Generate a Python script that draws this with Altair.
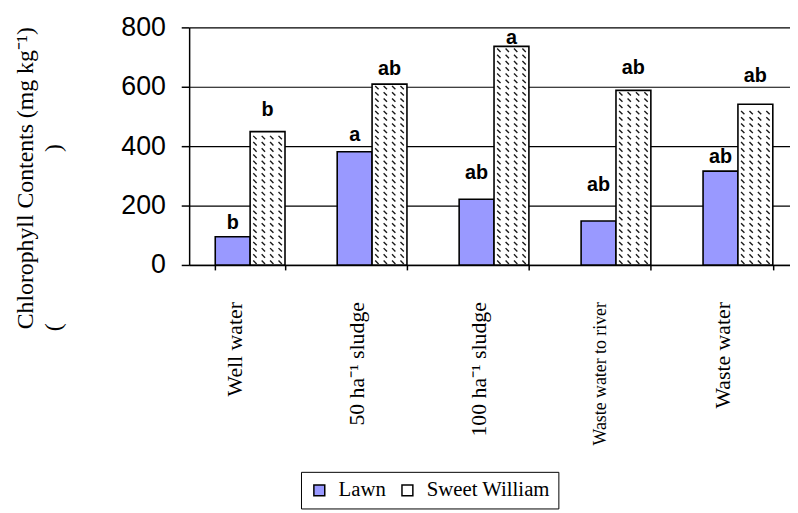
import altair as alt
import pandas as pd

categories = ["Well water", "50 ha\u207b\u00b9 sludge", "100 ha\u207b\u00b9 sludge",
              "Waste water to river", "Waste water"]
series = ["Lawn", "Sweet William"]
lawn = [95, 381, 221, 148, 316]
sweet_william = [449, 609, 736, 588, 541]
lawn_letters = ["b", "a", "ab", "ab", "ab"]
sw_letters = ["b", "ab", "a", "ab", "ab"]
lawn_se = [21, 30, 62, 94, 22]
sw_se = [47, 26, 2, 50, 70]
y_ticks = [0, 200, 400, 600, 800]

rows = []
for i, c in enumerate(categories):
    rows.append({"category": c, "series": "Lawn", "value": lawn[i],
                 "letter": lawn_letters[i], "se": lawn_se[i]})
    rows.append({"category": c, "series": "Sweet William", "value": sweet_william[i],
                 "letter": sw_letters[i], "se": sw_se[i]})
df = pd.DataFrame(rows)
sw_df = df[df["series"] == "Sweet William"]

x_enc = alt.X(
    "category:N", sort=categories,
    scale=alt.Scale(domain=categories, range=[0, 616], paddingInner=0.428, paddingOuter=0.214),
    axis=alt.Axis(
        title=None, labelAngle=270, labelAlign="right", labelBaseline="middle",
        labelFont="Liberation Serif",
        labelFontSize=alt.ConditionalAxisNumber(
            condition={"test": "datum.value == 'Waste water to river'", "value": 18},
            value=22),
        labelColor="black", labelPadding=32, labelOffset=-16, labelLimit=400,
        tickBand="extent", tickSize=5, tickColor="black", tickWidth=1.5,
        domainColor="black", domainWidth=1.5, grid=False),
)
xo_enc = alt.XOffset("series:N", sort=series,
                     scale=alt.Scale(domain=series, paddingInner=0, paddingOuter=0))
y_scale = alt.Scale(domain=[0, 800])

bars = alt.Chart(df).mark_bar(stroke="black", strokeWidth=1.6).encode(
    x=x_enc, xOffset=xo_enc,
    y=alt.Y("value:Q", scale=y_scale,
            axis=alt.Axis(title=None, values=y_ticks, labelFont="Liberation Sans",
                          labelFontSize=27, labelColor="black", labelPadding=16,
                          tickSize=8, tickColor="black", tickWidth=1.5,
                          domainColor="black", domainWidth=1.5,
                          gridColor="black", gridWidth=1.2)),
    color=alt.Color("series:N", sort=series,
                    scale=alt.Scale(domain=series, range=["#9999ff", "#ffffff"]),
                    legend=alt.Legend(title=None, orient="none", legendX=113, legendY=449,
                                      direction="horizontal", labelFont="Liberation Serif",
                                      labelFontSize=21, labelColor="black",
                                      symbolType="square", symbolSize=121,
                                      symbolStrokeColor="black", symbolStrokeWidth=1.5,
                                      strokeColor="black", padding=8, columnPadding=11,
                                      labelOffset=9)),
)

hatch_path = ("M-0.85,-0.1L-0.65,0.1M-0.35,-0.1L-0.15,0.1"
              "M0.15,-0.1L0.35,0.1M0.65,-0.1L0.85,0.1")
hatch = alt.Chart(sw_df).transform_calculate(
    row="sequence(9, datum.value - 8, 21)"
).transform_flatten(["row"]).mark_point(
    shape=hatch_path, size=1156, filled=False, color="#1a1a1a",
    strokeWidth=1.4, opacity=1
).encode(x=x_enc, xOffset=xo_enc, y=alt.Y("row:Q", scale=y_scale))

letters = alt.Chart(df).transform_calculate(
    ly="datum.value + datum.se + 6"
).mark_text(font="Liberation Sans", fontWeight="bold", fontSize=20,
            baseline="alphabetic", color="black").encode(
    x=x_enc, xOffset=xo_enc, y=alt.Y("ly:Q", scale=y_scale), text="letter:N")

title1 = alt.Chart(pd.DataFrame({"t": ["Chlorophyll Contents (mg kg\u207b\u00b9)"]})).mark_text(
    font="Liberation Serif", fontSize=24, angle=270, align="left",
    baseline="alphabetic", color="black"
).encode(x=alt.value(-158), y=alt.value(305), text="t:N")
title2a = alt.Chart(pd.DataFrame({"t": ["("]})).mark_text(
    font="Liberation Serif", fontSize=24, angle=270, align="left",
    baseline="alphabetic", color="black"
).encode(x=alt.value(-129), y=alt.value(307), text="t:N")
title2b = alt.Chart(pd.DataFrame({"t": [")"]})).mark_text(
    font="Liberation Serif", fontSize=24, angle=270, align="right",
    baseline="alphabetic", color="black"
).encode(x=alt.value(-129), y=alt.value(118), text="t:N")

chart = alt.layer(bars, hatch, letters, title1, title2a, title2b).properties(
    width=607, height=240,
    padding={"left": 183, "top": 17, "right": 0, "bottom": 248},
    autosize=alt.AutoSizeParams(type="none"),
).configure_view(stroke=None).configure_legend(
    labelFont="Liberation Serif", labelFontSize=21
)

chart.save("out.html", embed_options={"renderer": "svg", "actions": False})
